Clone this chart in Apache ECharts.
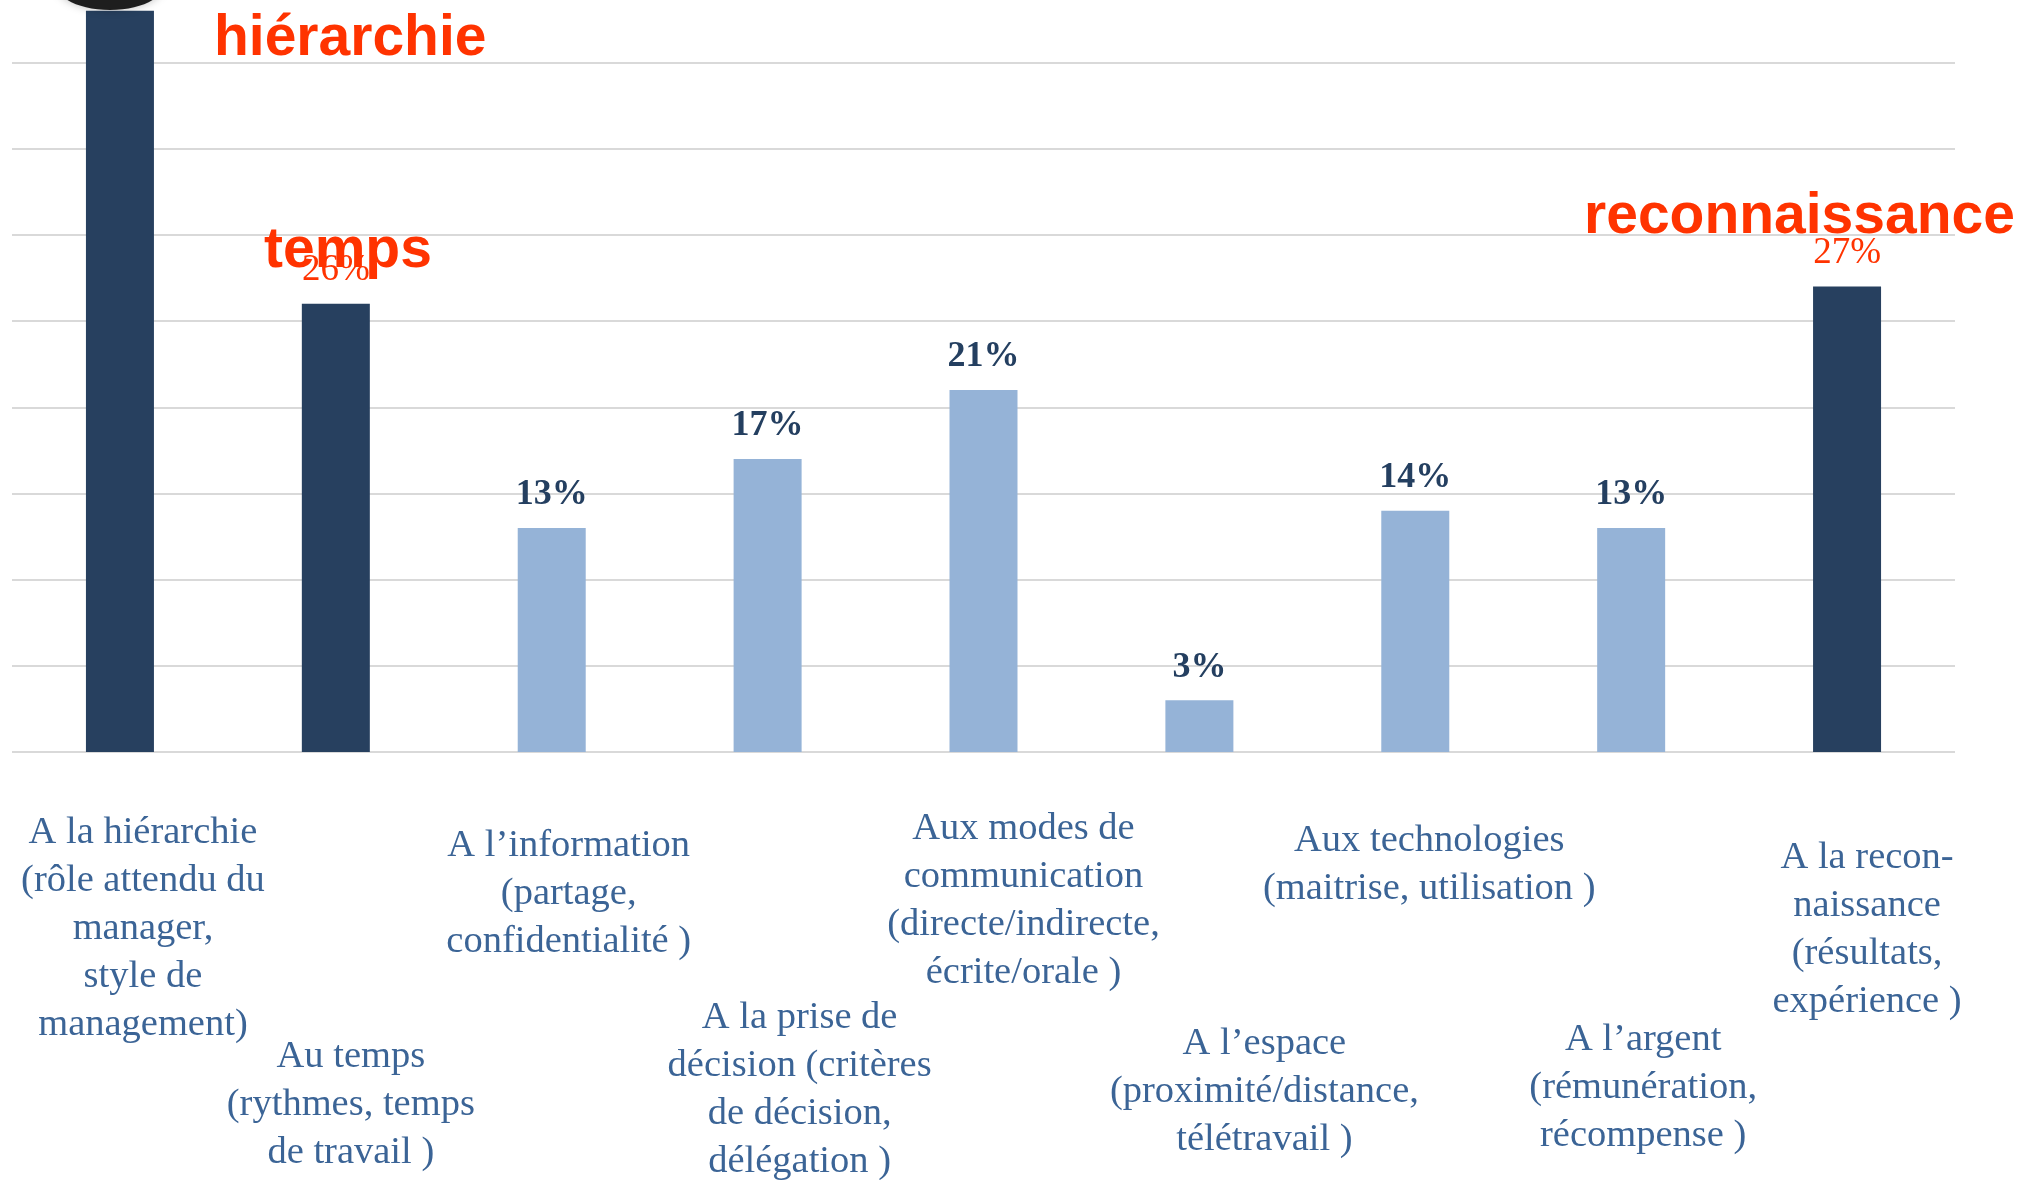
<!DOCTYPE html>
<html>
<head>
<meta charset="utf-8">
<script src="https://cdn.jsdelivr.net/npm/echarts@6/dist/echarts.min.js"></script>
<style>
  html, body { margin: 0; padding: 0; background: #fff; }
  #chart { width: 2040px; height: 1180px; }
</style>
</head>
<body>
<div id="chart"></div>
<script>
// données
const categories = [
  "A la hiérarchie\n(rôle attendu du\nmanager,\nstyle de\nmanagement)",
  "Au temps\n(rythmes, temps\nde travail )",
  "A l’information\n(partage,\nconfidentialité )",
  "A la prise de\ndécision (critères\nde décision,\ndélégation )",
  "Aux modes de\ncommunication\n(directe/indirecte,\nécrite/orale )",
  "A l’espace\n(proximité/distance,\ntélétravail )",
  "Aux technologies\n(maitrise, utilisation )",
  "A l’argent\n(rémunération,\nrécompense )",
  "A la recon-\nnaissance\n(résultats,\nexpérience )"
];
const values = [43, 26, 13, 17, 21, 3, 14, 13, 27];
const highlighted = [0, 1, 8]; // barres mises en avant
const notes = ["hiérarchie", "temps", "reconnaissance"];

// mise en page des libellés (décalage x depuis le centre de la barre, haut du bloc)
const labelDx = [23, 15, 17, 32, 40, 65, 14, 12, 20];
const labelTop = [809, 1033, 822, 994, 805, 1020, 817, 1016, 834];
const notePos = [[214, 39, 57], [264, 251, 57], [1584, 217, 57]];

const DARK = "#27405F";
const LIGHT = "#95B3D7";
const RED = "#FF3300";

const chart = echarts.init(document.getElementById("chart"));

const seriesData = values.map((v, i) => {
  const hi = highlighted.indexOf(i) >= 0;
  return {
    value: v,
    itemStyle: { color: hi ? DARK : LIGHT },
    label: hi
      ? { color: RED, fontWeight: "normal", fontSize: 37 }
      : { color: "#243F60", fontWeight: "bold", fontSize: 36 }
  };
});

chart.setOption({
  animation: false,
  backgroundColor: "#fff",
  grid: { left: 12, right: 85, top: 62.5, bottom: 428 },
  xAxis: {
    type: "category",
    data: categories,
    axisLine: { show: false },
    axisTick: { show: false },
    axisLabel: { show: false }
  },
  yAxis: {
    type: "value",
    min: 0,
    max: 40,
    interval: 5,
    axisLabel: { show: false },
    axisLine: { show: false },
    axisTick: { show: false },
    splitLine: {
      show: true,
      lineStyle: { color: "#D9D9D9", width: 2 }
    }
  },
  series: [
    {
      type: "bar",
      data: seriesData,
      barWidth: 68,
      clip: false,
      label: {
        show: true,
        position: "top",
        distance: 15,
        fontFamily: "Liberation Serif",
        formatter: "{c}%"
      }
    }
  ]
});

// libellés des catégories, placés sous chaque barre
const graphics = categories.map((txt, i) => {
  const x = chart.convertToPixel({ xAxisIndex: 0 }, i);
  return {
    type: "text",
    x: x + labelDx[i],
    y: labelTop[i],
    style: {
      text: txt,
      fill: "#3B6496",
      fontFamily: "Liberation Serif",
      fontSize: 38.5,
      lineHeight: 48,
      align: "center",
      verticalAlign: "top"
    }
  };
});

// annotations en rouge
notes.forEach((t, i) => {
  graphics.push({
    type: "text",
    x: notePos[i][0],
    y: notePos[i][1],
    z: 100,
    style: {
      text: t,
      fill: RED,
      fontFamily: "Liberation Sans",
      fontWeight: "bold",
      fontSize: notePos[i][2],
      align: "left",
      verticalAlign: "middle"
    }
  });
});

// morceau d'image sombre en haut à gauche
graphics.push({
  type: "ellipse",
  shape: { cx: 110, cy: -16, rx: 54, ry: 26 },
  z: 90,
  style: { fill: "#1E1E1E", shadowBlur: 8, shadowColor: "rgba(0,0,0,0.25)" }
});

chart.setOption({ graphic: graphics });
window.addEventListener("resize", chart.resize);
</script>
</body>
</html>
